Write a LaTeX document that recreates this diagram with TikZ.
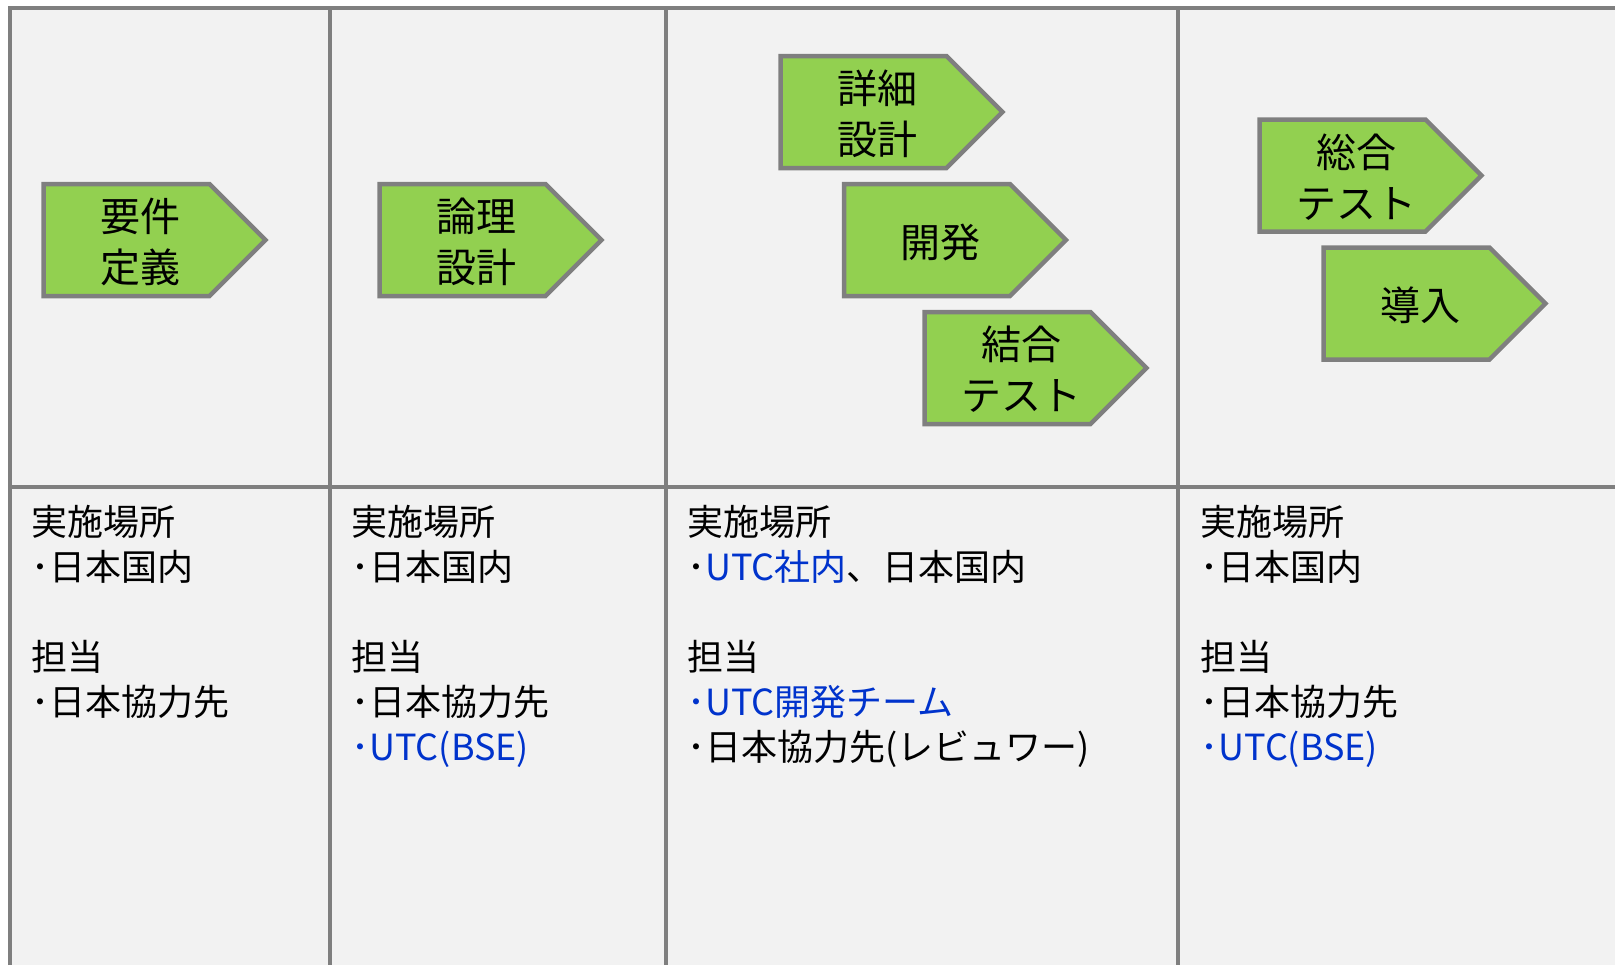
\documentclass[tikz,border=0pt]{standalone}
\usepackage{fontspec}
\setmainfont{Noto Sans CJK JP}
\usetikzlibrary{shapes.symbols}
\definecolor{phasegreen}{HTML}{92D050}
\definecolor{linegray}{HTML}{7F7F7F}
\definecolor{panelgray}{HTML}{F2F2F2}
\definecolor{utcblue}{HTML}{0033CC}
% text sits a little right of (and below) the box centre
\newcommand{\phasetext}[1]{\hspace*{13.5pt}\raisebox{-3.5pt}[\height][\depth]{\begin{tabular}{@{}c@{}}#1\end{tabular}}}

\begin{document}
\begin{tikzpicture}[%
		x=0.5pt,
		y=-0.5pt,
		phase/.style={%
			signal,
			signal to=east,
			signal pointer angle=90,
			draw=linegray,
			line width=2.25pt,
			fill=phasegreen,
			minimum width=111pt,
			minimum height=56pt,
			inner sep=0pt,
			font=\fontsize{20}{25.5}\selectfont
		},
		note/.style={%
			anchor=north west,
			inner sep=0pt,
			align=left,
			font=\fontsize{18}{22.5}\selectfont
		},
		frameline/.style={%
			draw=linegray,
			line width=2.25pt
		}
		]
		\useasboundingbox (0,0) rectangle (1615,965);
		\fill[panelgray] (10,8) rectangle (1615,965);
		
		% table
		\draw[frameline] (10,965) -- (10,8) -- (1615,8);
		\draw[frameline] (10,487) -- (1615,487);
		\draw[frameline] (330,8) -- (330,965);
		\draw[frameline] (666,8) -- (666,965);
		\draw[frameline] (1178,8) -- (1178,965);
		
		% phases
		\node[phase] (req)    at (126.5,240)    {\phasetext{要件\\定義}};
		\node[phase] (logic)  at (462.5,240)    {\phasetext{論理\\設計}};
		\node[phase] (detail) at (863.5,112)    {\phasetext{詳細\\設計}};
		\node[phase] (dev)    at (927,240)      {\phasetext{開発}};
		\node[phase] (integ)  at (1007.5,368)   {\phasetext{結合\\テスト}};
		\node[phase] (system) at (1342.5,175.5) {\phasetext{総合\\テスト}};
		\node[phase] (deploy) at (1406.5,303.5) {\phasetext{導入}};
		
		% places and staff
		\node[note] (note1) at (31,505)   {実施場所\\･日本国内\\[22.5pt]担当\\･日本協力先};
		\node[note] (note2) at (351,505)  {実施場所\\･日本国内\\[22.5pt]担当\\･日本協力先\\\textcolor{utcblue}{･UTC(BSE)}};
		\node[note] (note3) at (687,505)  {実施場所\\･\textcolor{utcblue}{UTC社内}、日本国内\\[22.5pt]担当\\\textcolor{utcblue}{･UTC開発チーム}\\･日本協力先(レビュワー)};
		\node[note] (note4) at (1200,505) {実施場所\\･日本国内\\[22.5pt]担当\\･日本協力先\\\textcolor{utcblue}{･UTC(BSE)}};
		\end{tikzpicture}
\end{document}
